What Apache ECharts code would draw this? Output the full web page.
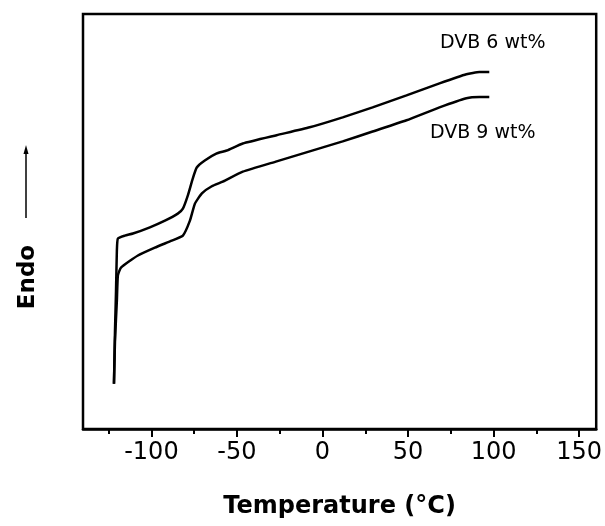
<!DOCTYPE html>
<html>
<head>
<meta charset="utf-8">
<script src="https://cdn.jsdelivr.net/npm/echarts@6/dist/echarts.min.js"></script>
<style>html,body{margin:0;padding:0;background:#fff}#c{width:605px;height:526px}</style>
</head>
<body>
<div id="c"></div>
<script>
// DVB 6 wt% curve (temperature °C, heat flow arbitrary units)
const temp6 = [-121.9,-121.3,-120.7,-120.2,-119.6,-115.5,-110.8,-100.9,-92.1,-84.6,-81.6,-78.7,-75.8,-73.5,-68.8,-61.8,-56.0,-46.6,-26.8,-7.5,11.8,29.3,49.1,68.4,84.1,91.7,97.5];
const endo6 = [10.9,23.7,33.3,43.0,45.9,46.6,47.1,48.6,50.2,51.9,53.1,56.3,60.4,63.0,64.7,66.4,67.1,68.8,70.8,72.7,75.1,77.5,80.4,83.3,85.5,86.0,86.0];
// DVB 9 wt% curve
const temp9 = [-121.9,-121.3,-120.2,-119.6,-117.8,-107.9,-98.0,-88.1,-81.6,-77.5,-74.6,-70.5,-64.7,-58.3,-46.6,-26.8,-7.5,11.8,29.3,49.1,68.4,84.1,91.7,97.5];
const endo9 = [10.9,21.3,30.9,37.0,38.9,41.8,43.7,45.4,46.6,50.2,54.3,56.8,58.5,59.6,62.0,64.5,66.9,69.3,71.7,74.4,77.5,79.7,80.0,80.0];
const majorTicks = [-100,-50,0,50,100,150];
const minorTicks = [-125,-75,-25,25,75,125];
const seriesNames = ['DVB 6 wt%','DVB 9 wt%'];
const xTitle = 'Temperature (°C)';
const yTitle = 'Endo';

const pair = (xs, ys) => xs.map((x, i) => [x, ys[i]]);
const FONT = 'DejaVu Sans';

const chart = echarts.init(document.getElementById('c'), null, {renderer: 'canvas'});
chart.setOption({
  animation: false,
  backgroundColor: '#fff',
  grid: {left: 83, top: 14, right: 8, bottom: 97, show: true, borderColor: '#000', borderWidth: 2.5, backgroundColor: 'transparent'},
  xAxis: [{
    type: 'value', min: -140, max: 160,
    axisLine: {show: true, lineStyle: {color: '#000', width: 2.5}},
    axisTick: {show: true, customValues: majorTicks, length: 8, lineStyle: {color: '#000', width: 2}},
    axisLabel: {customValues: majorTicks, color: '#000', fontSize: 24, fontFamily: FONT, margin: 12},
    splitLine: {show: false},
    name: xTitle, nameLocation: 'middle', nameGap: 66,
    nameTextStyle: {color: '#000', fontSize: 24, fontWeight: 'bold', fontFamily: FONT}
  }, {
    type: 'value', min: -140, max: 160, position: 'bottom',
    axisLine: {show: false},
    axisTick: {show: true, customValues: minorTicks, length: 5, lineStyle: {color: '#000', width: 2}},
    axisLabel: {show: false},
    splitLine: {show: false}
  }],
  yAxis: {
    type: 'value', min: 0, max: 100,
    axisLine: {show: false}, axisTick: {show: false}, axisLabel: {show: false}, splitLine: {show: false}
  },
  series: [{
    name: seriesNames[0], type: 'line', xAxisIndex: 0, data: pair(temp6, endo6),
    showSymbol: false, smooth: 0.15, lineStyle: {color: '#000', width: 2.5}
  }, {
    name: seriesNames[1], type: 'line', xAxisIndex: 0, data: pair(temp9, endo9),
    showSymbol: false, smooth: 0.15, lineStyle: {color: '#000', width: 2.5}
  }],
  graphic: [
    {type: 'text', left: 440, top: 34, style: {text: seriesNames[0], fill: '#000', font: '19px "' + FONT + '"'}},
    {type: 'text', left: 430, top: 124, style: {text: seriesNames[1], fill: '#000', font: '19px "' + FONT + '"'}},
    {type: 'text', x: 28, y: 277, rotation: Math.PI / 2,
     style: {text: yTitle, fill: '#000', font: 'bold 23px "' + FONT + '"', align: 'center', verticalAlign: 'middle'}},
    {type: 'line', shape: {x1: 26, y1: 218, x2: 26, y2: 150}, style: {stroke: '#000', lineWidth: 1.5}},
    {type: 'polygon', shape: {points: [[26, 145], [23.5, 154], [28.5, 154]]}, style: {fill: '#000'}}
  ]
});
</script>
</body>
</html>
